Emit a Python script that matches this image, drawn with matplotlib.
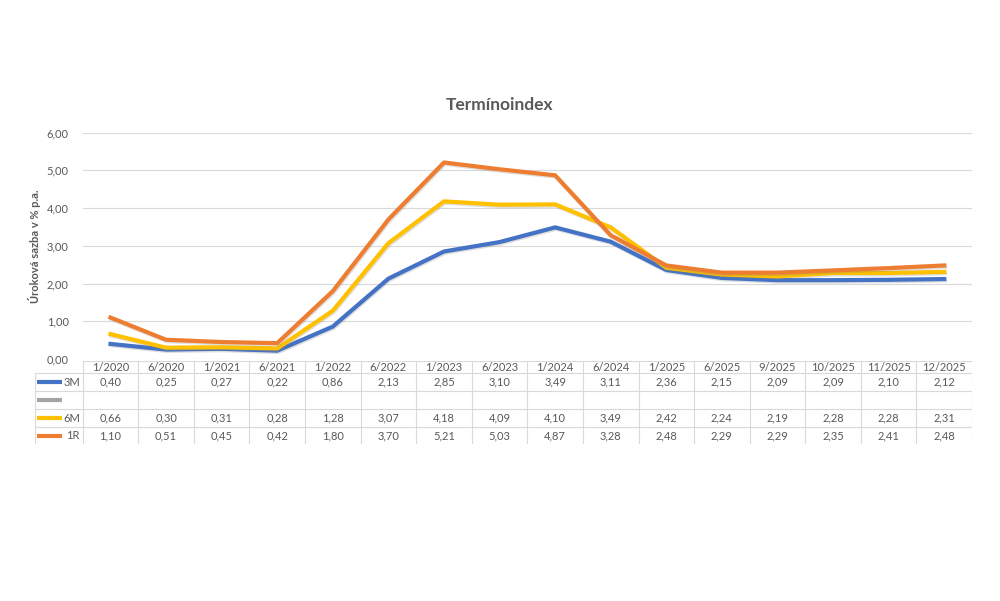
import numpy as np
import matplotlib.pyplot as plt
import matplotlib.patheffects as pe

periods = ['1/2020', '6/2020', '1/2021', '6/2021', '1/2022', '6/2022', '1/2023', '6/2023',
           '1/2024', '6/2024', '1/2025', '6/2025', '9/2025', '10/2025', '11/2025', '12/2025']
rate_3m = [0.40, 0.25, 0.27, 0.22, 0.86, 2.13, 2.85, 3.10, 3.49, 3.11, 2.36, 2.15, 2.09, 2.09, 2.10, 2.12]
rate_6m = [0.66, 0.30, 0.31, 0.28, 1.28, 3.07, 4.18, 4.09, 4.10, 3.49, 2.42, 2.24, 2.19, 2.28, 2.28, 2.31]
rate_1r = [1.10, 0.51, 0.45, 0.42, 1.80, 3.70, 5.21, 5.03, 4.87, 3.28, 2.48, 2.29, 2.29, 2.35, 2.41, 2.48]
yticks = [0, 1, 2, 3, 4, 5, 6]

series = [('3M', rate_3m, '#4472C4'),
          ('', None, '#A5A5A5'),
          ('6M', rate_6m, '#FFC000'),
          ('1R', rate_1r, '#ED7D31')]

txt = '#595959'
grid = '#D9D9D9'
W, H = 1000, 601

fig = plt.figure(figsize=(W / 100, H / 100), dpi=100)
plt.rcParams['font.family'] = ['Lato', 'DejaVu Sans']
fs = 8

# main plot area (pixel coords -> figure fractions)
left, right, top, bottom = 82.7, 972, 132.7, 359
ax = fig.add_axes([left / W, 1 - bottom / H, (right - left) / W, (bottom - top) / H])
x = np.arange(len(periods))
shadow = [pe.SimpleLineShadow(offset=(0.6, -1.0), shadow_color='#808080', alpha=0.25), pe.Normal()]
for name, vals, col in series:
    if vals is None:
        continue
    ax.plot(x, vals, color=col, lw=3, solid_joinstyle='round', path_effects=shadow, zorder=3)
ax.set_xlim(-0.5, len(periods) - 0.5)
ax.set_ylim(0, 6)
ax.set_yticks(yticks)
ax.set_yticklabels([f'{v:.2f}'.replace('.', ',') for v in yticks], fontsize=fs, color=txt)
ax.set_xticks([])
ax.yaxis.grid(True, color=grid, lw=0.8)
ax.set_axisbelow(True)
for s in ax.spines.values():
    s.set_visible(False)
ax.tick_params(axis='y', length=0, pad=10)
ax.set_ylabel('Úroková sazba v % p.a.', fontsize=fs, color=txt, fontweight='bold', labelpad=4)

fig.text(0.5, 1 - 105 / H, 'Termínoindex', ha='center', va='center', fontsize=12.5,
         fontweight='bold', color=txt)

# data table below the axis
tleft, ttop, tbottom = 35, 360.5, 444
tax = fig.add_axes([tleft / W, 1 - tbottom / H, (right - tleft) / W, (tbottom - ttop) / H])
unit = (right - left) / len(periods)
x0 = -0.5 - (left - tleft) / unit
tax.set_xlim(x0, len(periods) - 0.5)
row_edges = [0, 12.5, 30.5, 48.5, 66.5, 83.5]  # pixel offsets from table top
tax.set_ylim(row_edges[-1], 0)
tax.axis('off')

# horizontal rules
tax.plot([-0.5, len(periods) - 0.5], [row_edges[0]] * 2, color=grid, lw=0.8)
for yy in row_edges[1:]:
    tax.plot([x0, len(periods) - 0.5], [yy, yy], color=grid, lw=0.8)
# vertical rules
for xx in np.arange(-0.5, len(periods), 1.0):
    tax.plot([xx, xx], [0, row_edges[-1]], color=grid, lw=0.8)
tax.plot([x0, x0], [row_edges[1], row_edges[-1]], color=grid, lw=0.8)

for i, p in enumerate(periods):
    tax.text(i, (row_edges[0] + row_edges[1]) / 2 + 0.5, p, ha='center', va='center', fontsize=fs, color=txt)

key_len = 0.45
for r, (name, vals, col) in enumerate(series):
    yc = (row_edges[r + 1] + row_edges[r + 2]) / 2
    tax.plot([x0 + 0.04, x0 + 0.04 + key_len], [yc, yc], color=col, lw=3, solid_capstyle='butt')
    tax.text(-0.55, yc, name, ha='right', va='center', fontsize=fs, color=txt)
    if vals is None:
        continue
    for i, v in enumerate(vals):
        tax.text(i, yc, f'{v:.2f}'.replace('.', ','), ha='center', va='center', fontsize=fs, color=txt)

fig.savefig('out.png', dpi=100, facecolor='white')
